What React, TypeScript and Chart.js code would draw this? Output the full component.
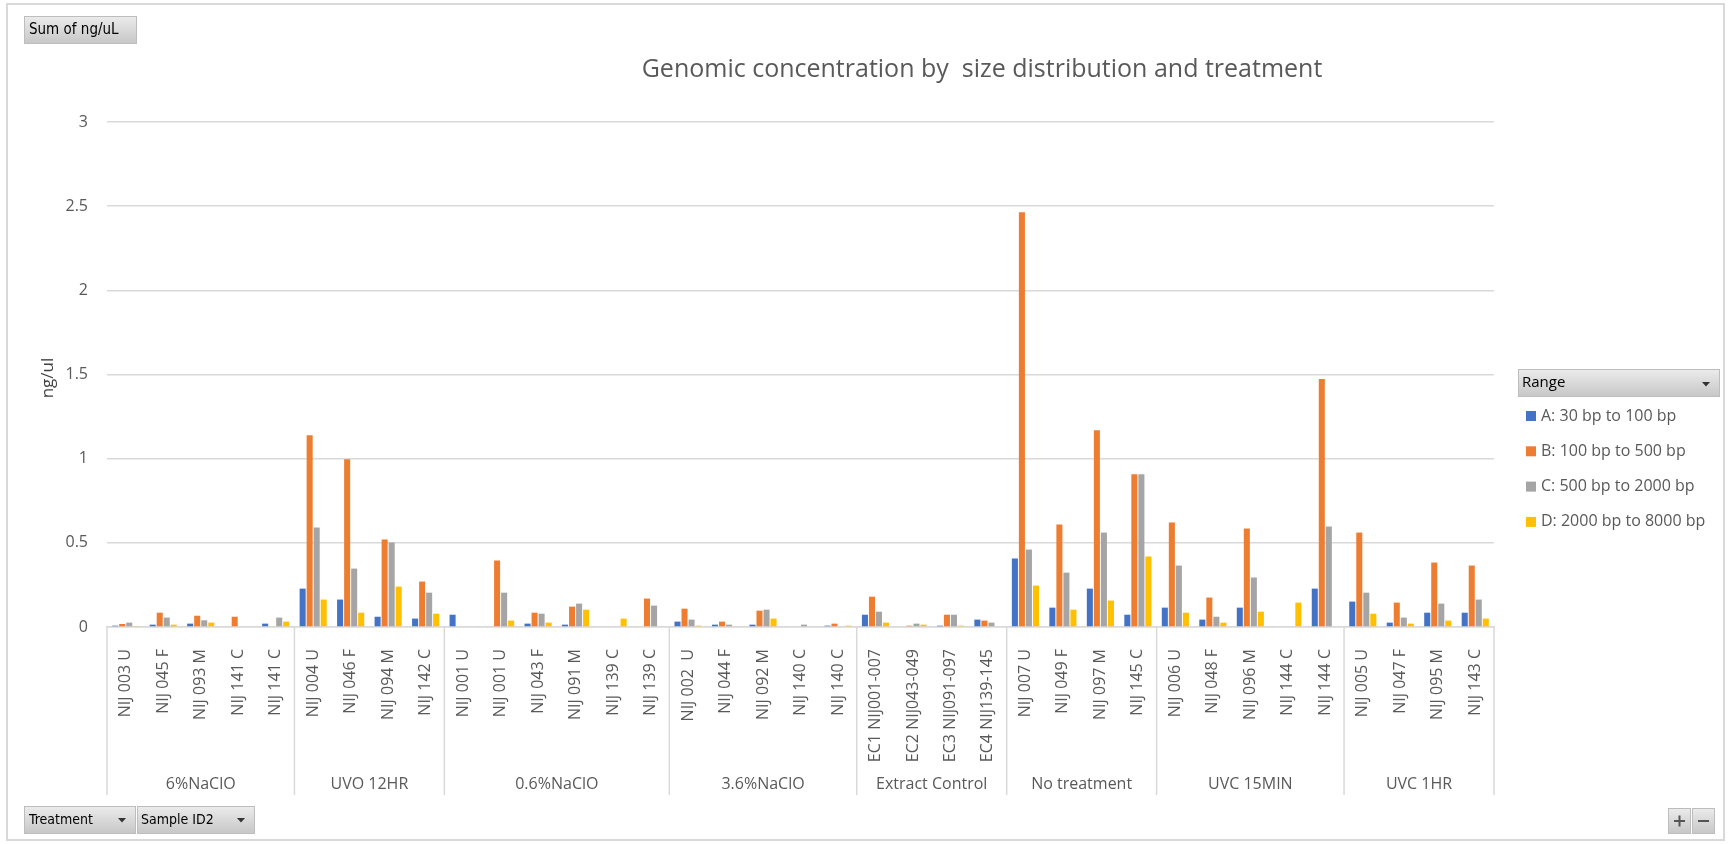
import React, { useEffect, useRef } from "react";
import { Chart, registerables } from "chart.js";

Chart.register(...registerables);

const groups = ["6%NaClO", "UVO 12HR", "0.6%NaClO", "3.6%NaClO", "Extract Control", "No treatment", "UVC 15MIN", "UVC 1HR"];
const groupSizes = [5, 4, 6, 5, 4, 4, 5, 4];
const samples = [
  "NIJ 003 U", "NIJ 045 F", "NIJ 093 M", "NIJ 141 C", "NIJ 141 C",
  "NIJ 004 U", "NIJ 046 F", "NIJ 094 M", "NIJ 142 C",
  "NIJ 001 U", "NIJ 001 U", "NIJ 043 F", "NIJ 091 M", "NIJ 139 C", "NIJ 139 C",
  "NIJ 002  U", "NIJ 044 F", "NIJ 092 M", "NIJ 140 C", "NIJ 140 C",
  "EC1 NIJ001-007", "EC2 NIJ043-049", "EC3 NIJ091-097", "EC4 NIJ139-145",
  "NIJ 007 U", "NIJ 049 F", "NIJ 097 M", "NIJ 145 C",
  "NIJ 006 U", "NIJ 048 F", "NIJ 096 M", "NIJ 144 C", "NIJ 144 C",
  "NIJ 005 U", "NIJ 047 F", "NIJ 095 M", "NIJ 143 C",
];

const seriesNames = ["A: 30 bp to 100 bp", "B: 100 bp to 500 bp", "C: 500 bp to 2000 bp", "D: 2000 bp to 8000 bp"];

const rangeA = [
  0.008, 0.014, 0.02, null, 0.02,
  0.228, 0.163, 0.061, 0.05,
  0.073, null, 0.02, 0.014, null, null,
  0.032, 0.014, 0.014, null, 0.008,
  0.073, null, 0.008, 0.044,
  0.407, 0.115, 0.228, 0.073,
  0.115, 0.044, 0.115, null, 0.228,
  0.151, 0.026, 0.085, 0.085,
];
const rangeB = [
  0.018, 0.085, 0.067, 0.061, null,
  1.139, 0.996, 0.52, 0.27,
  null, 0.395, 0.085, 0.121, null, 0.169,
  0.109, 0.032, 0.097, null, 0.02,
  0.18, 0.008, 0.073, 0.038,
  2.464, 0.609, 1.169, 0.907,
  0.621, 0.175, 0.585, null, 1.474,
  0.561, 0.145, 0.383, 0.365,
];
const rangeC = [
  0.026, 0.056, 0.04, null, 0.056,
  0.591, 0.347, 0.502, 0.204,
  null, 0.204, 0.079, 0.139, null, 0.127,
  0.044, 0.014, 0.103, 0.014, null,
  0.091, 0.02, 0.073, 0.026,
  0.46, 0.323, 0.561, 0.907,
  0.365, 0.061, 0.294, null, 0.597,
  0.204, 0.056, 0.139, 0.163,
];
const rangeD = [
  0.006, 0.014, 0.026, null, 0.032,
  0.163, 0.085, 0.24, 0.079,
  null, 0.038, 0.026, 0.103, 0.05, null,
  0.008, null, 0.05, null, 0.008,
  0.026, 0.014, 0.008, null,
  0.246, 0.103, 0.157, 0.419,
  0.085, 0.026, 0.091, 0.145, null,
  0.079, 0.02, 0.038, 0.05,
];

const colors = ["#4472C4", "#ED7D31", "#A5A5A5", "#FFC000"];
const yTicks = [0, 0.5, 1, 1.5, 2, 2.5, 3];
const yTickLabels = ["0", "0.5", "1", "1.5", "2", "2.5", "3"];

const TITLE = "Genomic concentration by  size distribution and treatment";
const Y_TITLE = "ng/ul";
const TEXT = "#595959";
const GRID = "#d9d9d9";
const SANS = "'Open Sans', sans-serif";
const COND = "'DejaVu Sans Condensed', 'DejaVu Sans', sans-serif";

function drawButton(ctx: CanvasRenderingContext2D, x: number, y: number, w: number, h: number) {
  const g = ctx.createLinearGradient(0, y, 0, y + h);
  g.addColorStop(0, "#ececec");
  g.addColorStop(1, "#c6c6c6");
  ctx.fillStyle = g;
  ctx.fillRect(x, y, w, h);
  ctx.strokeStyle = "#bdbdbd";
  ctx.lineWidth = 1;
  ctx.strokeRect(x + 0.5, y + 0.5, w - 1, h - 1);
}

function drawArrow(ctx: CanvasRenderingContext2D, cx: number, cy: number) {
  ctx.fillStyle = "#333";
  ctx.beginPath();
  ctx.moveTo(cx - 4, cy - 2);
  ctx.lineTo(cx + 4, cy - 2);
  ctx.lineTo(cx, cy + 2.5);
  ctx.closePath();
  ctx.fill();
}

const decor = {
  id: "decor",
  afterDraw(chart: any) {
    const ctx: CanvasRenderingContext2D = chart.ctx;
    const xs = chart.scales.x;
    const area = chart.chartArea;
    ctx.save();

    // outer frame
    ctx.strokeStyle = GRID;
    ctx.lineWidth = 2;
    ctx.strokeRect(7, 4, 1717, 836);

    // title
    ctx.fillStyle = TEXT;
    ctx.font = `25px ${SANS}`;
    ctx.textAlign = "center";
    ctx.textBaseline = "middle";
    ctx.fillText(TITLE, 982, 70);

    // y axis title
    ctx.save();
    ctx.translate(48, 378);
    ctx.rotate(-Math.PI / 2);
    ctx.font = `17px ${SANS}`;
    ctx.fillStyle = "#404040";
    ctx.fillText(Y_TITLE, 0, 0);
    ctx.restore();

    // group separators & labels
    const half = (xs.getPixelForValue(1) - xs.getPixelForValue(0)) / 2;
    const bottom = 795;
    ctx.strokeStyle = GRID;
    ctx.lineWidth = 1.5;
    let idx = 0;
    const edges: number[] = [area.left];
    groupSizes.forEach((n) => {
      idx += n;
      edges.push(idx >= samples.length ? area.right : xs.getPixelForValue(idx) - half);
    });
    edges.forEach((e) => {
      ctx.beginPath();
      ctx.moveTo(e, area.bottom);
      ctx.lineTo(e, bottom);
      ctx.stroke();
    });
    ctx.fillStyle = TEXT;
    ctx.font = `16px ${SANS}`;
    ctx.textAlign = "center";
    ctx.textBaseline = "middle";
    groups.forEach((g, i) => {
      ctx.fillText(g, (edges[i] + edges[i + 1]) / 2, 784);
    });

    // buttons
    ctx.textAlign = "left";
    drawButton(ctx, 24, 16, 113, 28);
    ctx.fillStyle = "#000";
    ctx.font = `15px ${COND}`;
    ctx.fillText("Sum of ng/uL", 29, 30);

    drawButton(ctx, 24, 806, 112, 28);
    ctx.fillStyle = "#000";
    ctx.font = `14px ${COND}`;
    ctx.fillText("Treatment", 29, 820);
    drawArrow(ctx, 122, 820);
    drawButton(ctx, 137, 806, 118, 28);
    ctx.fillStyle = "#000";
    ctx.fillText("Sample ID2", 141, 820);
    drawArrow(ctx, 241, 820);

    drawButton(ctx, 1668, 808, 23, 26);
    drawButton(ctx, 1692, 808, 23, 26);
    ctx.fillStyle = "#555";
    ctx.fillRect(1674, 820, 11, 2);
    ctx.fillRect(1678.5, 815.5, 2, 11);
    ctx.fillRect(1698, 820, 11, 2);

    // legend
    drawButton(ctx, 1518, 369, 202, 28);
    ctx.fillStyle = "#000";
    ctx.font = `15px ${SANS}`;
    ctx.textBaseline = "middle";
    ctx.fillText("Range", 1522, 383);
    drawArrow(ctx, 1706, 384);

    ctx.font = `16px ${SANS}`;
    chart.data.datasets.forEach((ds: any, i: number) => {
      const cy = 416 + i * 35.3;
      ctx.fillStyle = ds.backgroundColor;
      ctx.fillRect(1526, cy - 5, 10, 10);
      ctx.fillStyle = TEXT;
      ctx.fillText(ds.label, 1541, cy);
    });

    ctx.restore();
  },
};

export default function App() {
  const ref = useRef<HTMLCanvasElement | null>(null);
  useEffect(() => {
    if (!ref.current) return;
    const data = [rangeA, rangeB, rangeC, rangeD];
    const chart = new Chart(ref.current, {
      type: "bar",
      data: {
        labels: samples,
        datasets: seriesNames.map((name, i) => ({
          label: name,
          data: data[i],
          backgroundColor: colors[i],
          borderWidth: 0,
          categoryPercentage: 0.75,
          barPercentage: 0.86,
        })),
      },
      options: {
        animation: false,
        responsive: false,
        layout: { padding: { left: 0, right: 236, top: 122, bottom: 0 } },
        plugins: { legend: { display: false }, title: { display: false }, tooltip: { enabled: false } },
        scales: {
          x: {
            grid: { display: false },
            border: { display: true, color: GRID, width: 1.5 },
            ticks: {
              autoSkip: false,
              minRotation: 90,
              maxRotation: 90,
              padding: 14,
              color: TEXT,
              font: { family: "'Open Sans', sans-serif", size: 16 },
            },
            afterFit(scale: any) {
              scale.height = 217;
            },
          },
          y: {
            min: 0,
            max: 3,
            afterBuildTicks(scale: any) {
              scale.ticks = yTicks.map((v) => ({ value: v }));
            },
            grid: { color: GRID, lineWidth: 1.5, drawTicks: false },
            border: { display: false },
            ticks: {
              padding: 19,
              color: TEXT,
              font: { family: "'Open Sans', sans-serif", size: 16 },
              callback: (_v: any, i: number) => yTickLabels[i],
            },
            afterFit(scale: any) {
              scale.width = 107;
            },
          },
        },
      },
      plugins: [decor],
    });
    return () => chart.destroy();
  }, []);
  return (
    <div style={{ position: "absolute", left: 0, top: 0, width: 1730, height: 844, background: "#fff" }}>
      <canvas ref={ref} width={1730} height={844} style={{ display: "block" }} />
    </div>
  );
}
